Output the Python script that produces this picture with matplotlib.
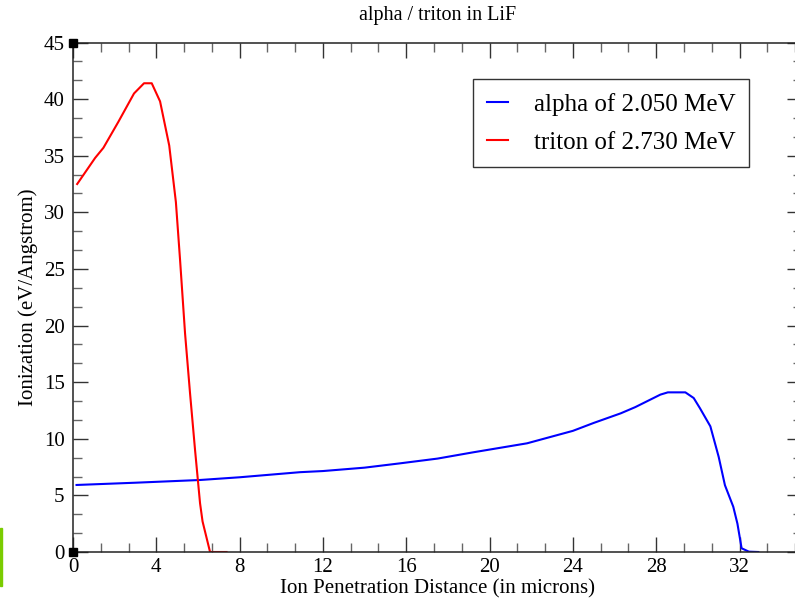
import matplotlib.pyplot as plt
from matplotlib.patches import Rectangle
from matplotlib.ticker import MultipleLocator

# Ionization profiles (SRIM-style output) for the two reaction products in LiF
alpha_depth = [0.17, 3.0, 6.1, 8.0, 10.9, 12.0, 14.0, 15.7, 17.5, 19.2, 20.5,
               21.8, 23.0, 24.0, 25.0, 26.3, 27.0, 27.6, 28.2, 28.56, 29.4,
               29.8, 30.1, 30.6, 31.0, 31.3, 31.7, 31.9, 32.1, 32.45, 32.9]
alpha_ion = [5.92, 6.12, 6.36, 6.6, 7.05, 7.15, 7.45, 7.83, 8.25, 8.8, 9.2,
             9.6, 10.2, 10.7, 11.4, 12.25, 12.8, 13.35, 13.9, 14.1, 14.1,
             13.6, 12.7, 11.1, 8.4, 5.9, 4.0, 2.5, 0.33, 0.03, 0.0]

triton_depth = [0.2, 1.06, 1.46, 2.18, 2.93, 3.41, 3.78, 4.18, 4.62, 4.94,
                5.14, 5.38, 5.62, 5.86, 6.10, 6.22, 6.58, 7.37]
triton_ion = [32.5, 34.8, 35.7, 38.0, 40.5, 41.4, 41.4, 39.8, 35.9, 30.9,
              25.8, 19.3, 14.0, 9.0, 4.3, 2.7, 0.0, 0.0]

alpha_label = "alpha of 2.050 MeV"
triton_label = "triton of 2.730 MeV"

plt.rcParams['font.family'] = ['Liberation Serif', 'DejaVu Serif']

fig = plt.figure(figsize=(7.95, 5.99), dpi=100)
W, H = 795, 599
ax = fig.add_axes([73 / W, 1 - 552 / H, (802 - 73) / W, (552 - 42.5) / H])

ax.plot(alpha_depth, alpha_ion, color='#0000ff', lw=1.5, label=alpha_label)
ax.plot(triton_depth, triton_ion, color='#ff0000', lw=1.5, label=triton_label)

# corner markers on the y axis
ax.plot([0, 0], [0, 45], ls='none', marker='s', ms=5.5, color='black',
        clip_on=False, zorder=5)

ax.set_xlim(0, 35)
ax.set_ylim(0, 45)
ax.xaxis.set_major_locator(MultipleLocator(4))
ax.xaxis.set_minor_locator(MultipleLocator(4 / 3))
ax.yaxis.set_major_locator(MultipleLocator(5))
ax.yaxis.set_minor_locator(MultipleLocator(5 / 3))
ax.tick_params(which='both', direction='in', top=True, right=True,
               labelsize=15, width=1.0, color='#333333')
ax.tick_params(which='major', length=11)
ax.tick_params(which='minor', length=6.5, color='#666666')
ax.tick_params(axis='x', pad=4)
ax.tick_params(axis='y', pad=6)
for s in ax.spines.values():
    s.set_linewidth(1.1)
    s.set_color('#222222')

ax.set_title("alpha / triton in LiF", fontsize=14.5, pad=16)
ax.set_xlabel("Ion Penetration Distance (in microns)", fontsize=15, labelpad=2)
ax.set_ylabel("Ionization (eV/Angstrom)", fontsize=15, labelpad=4)

leg = ax.legend(loc='upper left', bbox_to_anchor=((473 - 73) / 729, 1 - (79 - 42.5) / 509.5),
                fontsize=18, frameon=True, fancybox=False, handlelength=0.85,
                handletextpad=1.02, borderpad=0.55, labelspacing=0.62,
                borderaxespad=0)
leg.get_frame().set_edgecolor('black')
leg.get_frame().set_linewidth(1.0)

# thin green strip at the left edge
fig.patches.append(Rectangle((0, 1 - 586 / H), 1.5 / W, 58 / H,
                             transform=fig.transFigure, color='#7acc00'))

fig.savefig('out.png', dpi=100)
